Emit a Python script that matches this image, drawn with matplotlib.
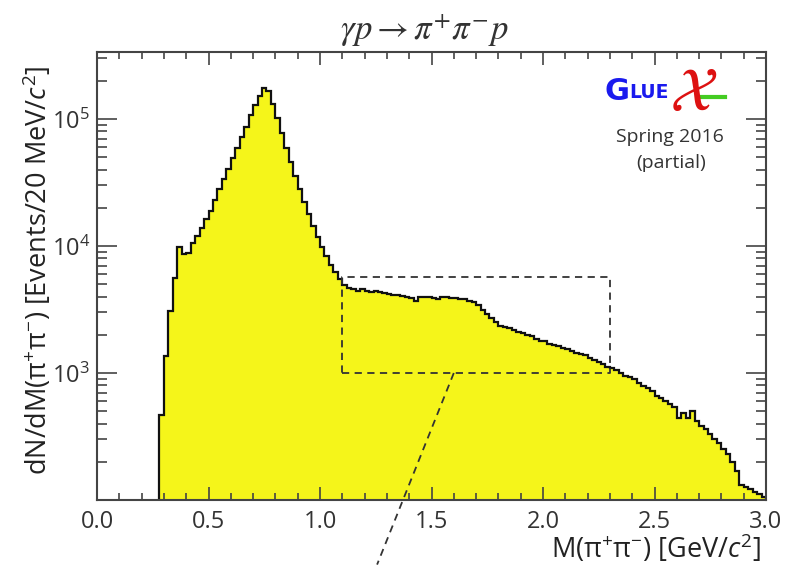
import numpy as np
import matplotlib
matplotlib.use("Agg")
import matplotlib.pyplot as plt
from matplotlib.ticker import FixedLocator, MultipleLocator, LogLocator, NullFormatter

plt.rcParams['font.family'] = ['Open Sans', 'DejaVu Sans']
plt.rcParams['mathtext.fontset'] = 'custom'
plt.rcParams['mathtext.rm'] = 'Open Sans'
plt.rcParams['mathtext.it'] = 'Open Sans:italic'
plt.rcParams['mathtext.bf'] = 'Open Sans:bold'

# M(pi+pi-) spectrum, 20 MeV bins, first filled bin at 0.28 GeV
bin_width = 0.02
first_bin = 0.28
counts = [
    470, 1350, 3100, 5600, 9800, 8700, 8800, 10500, 12000, 13800,
    16200, 19000, 22900, 28200, 33900, 40700, 49000, 58900, 72400, 87100,
    107000, 129000, 151000, 174000, 166000, 132000, 102000, 77600, 58900, 45700,
    35500, 28200, 22400, 17800, 14500, 11700, 9800, 8300, 7100, 6200,
    5500, 4900, 4700, 4550, 4450, 4550, 4450, 4350, 4400, 4350,
    4250, 4200, 4150, 4100, 4050, 4000, 3900, 3700, 3950, 4000,
    3950, 3900, 3800, 3950, 4000, 3900, 3900, 3800, 3800, 3700,
    3650, 3450, 3150, 2900, 2700, 2500, 2350, 2300, 2250, 2200,
    2100, 2050, 2000, 1950, 1850, 1800, 1780, 1700, 1660, 1620,
    1580, 1550, 1480, 1450, 1410, 1380, 1320, 1260, 1230, 1170,
    1120, 1100, 1050, 1000, 950, 930, 890, 830, 790, 760,
    720, 660, 630, 600, 575, 540, 440, 480, 440, 500,
    420, 380, 360, 330, 300, 280, 250, 230, 200, 170,
    132, 126, 123, 115, 112, 105,
]
edges = first_bin + bin_width * np.arange(len(counts) + 1)

# zoom box and pointer line
box_x = (1.1, 2.3)
box_y = (1000, 5700)
pointer_x = (1.6, 1.256)
pointer_y = (1000, 31)

W, H = 786, 565
fig = plt.figure(figsize=(W / 100, H / 100), dpi=100)
ax = fig.add_axes([97 / W, 1 - 500 / H, (766 - 97) / W, (500 - 52) / H])

ax.stairs(counts, edges, baseline=1, fill=True, facecolor='#f5f51a',
          edgecolor='#111111', linewidth=1.6)

ax.set_yscale('log')
ax.set_xlim(0, 3.0)
ax.set_ylim(100, 3.37e5)

dash = (0, (4, 3))
ax.plot([box_x[0], box_x[1], box_x[1], box_x[0], box_x[0]],
        [box_y[0], box_y[0], box_y[1], box_y[1], box_y[0]],
        color='#333333', lw=1.3, ls=dash)
ax.plot(pointer_x, pointer_y, color='#333333', lw=1.3, ls=dash, clip_on=False)

ax.xaxis.set_major_locator(MultipleLocator(0.5))
ax.xaxis.set_minor_locator(MultipleLocator(0.1))
ax.xaxis.set_major_formatter(matplotlib.ticker.FormatStrFormatter('%.1f'))
ax.yaxis.set_major_locator(FixedLocator([1e3, 1e4, 1e5]))
ax.yaxis.set_minor_locator(LogLocator(base=10, subs=np.arange(2, 10)))
ax.yaxis.set_minor_formatter(NullFormatter())

ax.tick_params(axis='both', which='both', direction='in', top=True, right=True,
               color='#444444', width=1.2, labelsize=17, labelcolor='#333333')
ax.tick_params(axis='x', which='major', length=9.5, pad=7)
ax.tick_params(axis='x', which='minor', length=4.8)
ax.tick_params(axis='y', which='major', length=14.5, pad=5)
ax.tick_params(axis='y', which='minor', length=7.2)
for s in ax.spines.values():
    s.set_color('#444444')
    s.set_linewidth(1.5)

fig.text(424 / W, 1 - 30 / H, r'$\gamma p \rightarrow \pi^{+}\pi^{-}p$',
         ha='center', va='center', fontsize=25, color='#333333',
         math_fontfamily='stix')
fig.text(38 / W, 1 - 270 / H,
         r'dN/dM(π$^{+}$π$^{-}$) [Events/20 MeV/$c^{2}$]',
         rotation=90, ha='center', va='center', fontsize=19.5, color='#222222')
fig.text(761 / W, 1 - 549 / H, r'M(π$^{+}$π$^{-}$) [GeV/$c^{2}$]',
         ha='right', va='center', fontsize=19.5, color='#222222')

# GlueX logo
fig.text(605 / W, 1 - 92 / H, 'G', ha='left', va='center', fontsize=22,
         fontweight='bold', color='#1a1aee', family='DejaVu Sans')
fig.text(629 / W, 1 - 93 / H, 'LUE', ha='left', va='center', fontsize=13.5,
         fontweight='bold', color='#1a1aee', family='DejaVu Sans')
fig.text(694 / W, 1 - 94 / H, r'$\mathcal{X}$', ha='center', va='center',
         fontsize=44, color='#dd1111', math_fontfamily='stix')
fig.add_artist(plt.Line2D([700 / W, 725 / W], [1 - 97 / H, 1 - 97 / H],
                          color='#44cc22', lw=3))
fig.text(670 / W, 1 - 137 / H, 'Spring 2016', ha='center', va='center',
         fontsize=14, color='#333333')
fig.text(671 / W, 1 - 163 / H, '(partial)', ha='center', va='center',
         fontsize=14, color='#333333')

fig.savefig('out.png', dpi=100)
